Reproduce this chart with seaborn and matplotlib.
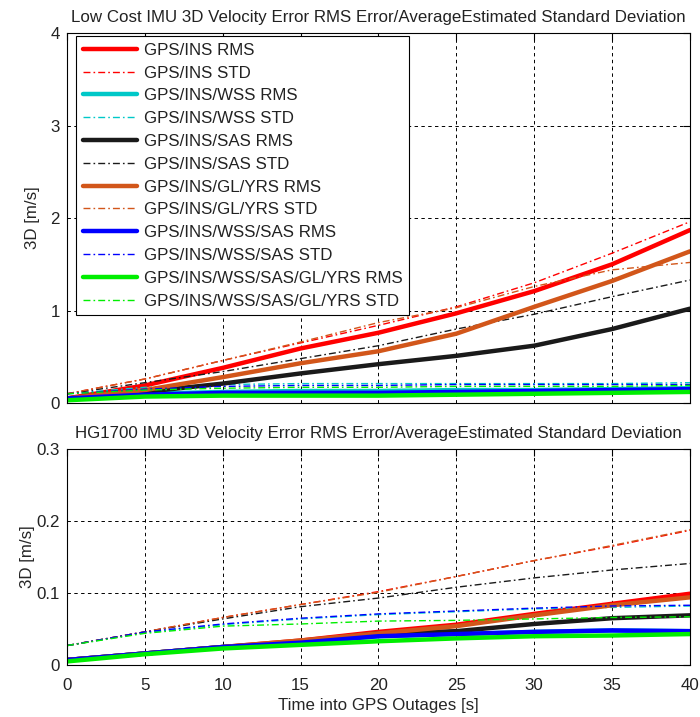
import matplotlib
matplotlib.use("Agg")
import matplotlib.pyplot as plt
import seaborn as sns
import numpy as np

sns.set_style("white")
plt.rcParams["font.family"] = ["Liberation Sans", "DejaVu Sans"]
plt.rcParams["text.color"] = "#222222"

# Time into the GPS outage [s]
t = [0, 5, 10, 15, 20, 25, 30, 35, 40]

# Integration schemes (legend order) and line colours
schemes = ["GPS/INS", "GPS/INS/WSS", "GPS/INS/SAS", "GPS/INS/GL/YRS",
           "GPS/INS/WSS/SAS", "GPS/INS/WSS/SAS/GL/YRS"]
colors = ["#ff0000", "#00c8c8", "#1a1a1a", "#d2561a", "#0000ff", "#00ee00"]

# Low cost IMU: RMS error and average estimated standard deviation [m/s]
low_rms = [
    [0.05, 0.19, 0.38, 0.59, 0.76, 0.97, 1.21, 1.50, 1.87],
    [0.05, 0.10, 0.12, 0.13, 0.13, 0.14, 0.14, 0.15, 0.16],
    [0.05, 0.12, 0.21, 0.32, 0.42, 0.51, 0.62, 0.80, 1.02],
    [0.05, 0.14, 0.28, 0.43, 0.56, 0.75, 1.04, 1.32, 1.64],
    [0.05, 0.09, 0.11, 0.11, 0.11, 0.12, 0.13, 0.14, 0.15],
    [0.03, 0.07, 0.08, 0.08, 0.08, 0.09, 0.10, 0.11, 0.12],
]
low_std = [
    [0.10, 0.26, 0.46, 0.65, 0.84, 1.04, 1.30, 1.62, 1.96],
    [0.10, 0.17, 0.20, 0.21, 0.21, 0.21, 0.21, 0.21, 0.22],
    [0.10, 0.22, 0.34, 0.48, 0.62, 0.80, 0.96, 1.15, 1.33],
    [0.10, 0.26, 0.46, 0.66, 0.87, 1.03, 1.26, 1.44, 1.52],
    [0.10, 0.15, 0.18, 0.19, 0.19, 0.20, 0.20, 0.20, 0.20],
    [0.10, 0.14, 0.16, 0.17, 0.17, 0.18, 0.18, 0.18, 0.19],
]

# HG1700 IMU: RMS error and average estimated standard deviation [m/s]
hg_rms = [
    [0.007, 0.016, 0.025, 0.034, 0.046, 0.056, 0.071, 0.085, 0.099],
    [0.007, 0.016, 0.025, 0.031, 0.040, 0.043, 0.046, 0.048, 0.047],
    [0.007, 0.016, 0.025, 0.032, 0.044, 0.047, 0.057, 0.065, 0.069],
    [0.007, 0.016, 0.025, 0.034, 0.044, 0.054, 0.069, 0.083, 0.094],
    [0.007, 0.016, 0.025, 0.031, 0.040, 0.043, 0.046, 0.048, 0.047],
    [0.005, 0.015, 0.023, 0.028, 0.033, 0.037, 0.040, 0.041, 0.043],
]
hg_std = [
    [0.027, 0.046, 0.066, 0.084, 0.102, 0.123, 0.145, 0.165, 0.187],
    [0.027, 0.045, 0.056, 0.064, 0.070, 0.074, 0.078, 0.080, 0.082],
    [0.027, 0.046, 0.064, 0.081, 0.093, 0.108, 0.121, 0.132, 0.141],
    [0.027, 0.046, 0.066, 0.084, 0.101, 0.123, 0.145, 0.166, 0.188],
    [0.027, 0.046, 0.057, 0.065, 0.071, 0.075, 0.079, 0.082, 0.083],
    [0.027, 0.044, 0.054, 0.057, 0.061, 0.062, 0.064, 0.066, 0.067],
]

x_ticks = [0, 5, 10, 15, 20, 25, 30, 35, 40]
top_yticks = [0, 1, 2, 3, 4]
bot_yticks = [0, 0.1, 0.2, 0.3]
bot_yticklabels = ["0", "0.1", "0.2", "0.3"]

top_title = "Low Cost IMU 3D Velocity Error RMS Error/AverageEstimated Standard Deviation"
bot_title = "HG1700 IMU 3D Velocity Error RMS Error/AverageEstimated Standard Deviation"
y_label = "3D [m/s]"
x_label = "Time into GPS Outages [s]"

DASHDOT = (0, (5, 2.2, 1.2, 2.2))
FS = 12.2

fig = plt.figure(figsize=(7.0, 7.17), dpi=100)
ax_top = fig.add_axes([0.0957, 0.4379, 0.89, 0.516])
ax_bot = fig.add_axes([0.0957, 0.0725, 0.89, 0.3013])


def draw(ax, rms, std):
    for name, col, r, s in zip(schemes, colors, rms, std):
        sns.lineplot(x=t, y=r, ax=ax, color=col, linewidth=3.2,
                     label=f"{name} RMS")
        sns.lineplot(x=t, y=s, ax=ax, color=col, linewidth=1.0,
                     linestyle=DASHDOT, label=f"{name} STD")


def style(ax, yticks, ylim):
    ax.set_xlim(0, 40)
    ax.set_ylim(*ylim)
    ax.set_xticks(x_ticks)
    ax.set_yticks(yticks)
    ax.grid(True, color="black", linewidth=0.7, linestyle=(0, (3.5, 3.5)))
    ax.set_axisbelow(True)
    ax.tick_params(direction="in", length=5, width=0.8, top=True, right=True,
                   labelsize=FS, colors="black", labelcolor="#222222")
    ax.tick_params(axis="x", pad=9)
    ax.tick_params(axis="y", pad=5)
    for sp in ax.spines.values():
        sp.set_color("black")
        sp.set_linewidth(0.8)
        sp.set_visible(True)
    ax.set_ylabel(y_label, fontsize=FS)


draw(ax_top, low_rms, low_std)
draw(ax_bot, hg_rms, hg_std)

style(ax_top, top_yticks, (0, 4))
style(ax_bot, bot_yticks, (0, 0.3))
ax_top.yaxis.set_label_coords(-0.043, 0.5)
ax_bot.yaxis.set_label_coords(-0.052, 0.5)
ax_top.set_xticklabels([])
ax_bot.set_yticklabels(bot_yticklabels)
ax_top.set_xlabel("")
ax_bot.set_xlabel(x_label, fontsize=FS, labelpad=4)

ax_top.set_title(top_title, fontsize=FS, pad=8)
ax_bot.set_title(bot_title, fontsize=FS, pad=8)

leg = ax_top.legend(loc="upper left", bbox_to_anchor=(0.0144, 0.992),
                    fontsize=FS, frameon=True, fancybox=False,
                    framealpha=1, edgecolor="black", labelspacing=0.46,
                    handlelength=3.2, handletextpad=0.4, borderpad=0.4,
                    borderaxespad=0)
leg.get_frame().set_linewidth(0.8)
ax_bot.legend_.remove()

fig.savefig("out.png", dpi=100)
